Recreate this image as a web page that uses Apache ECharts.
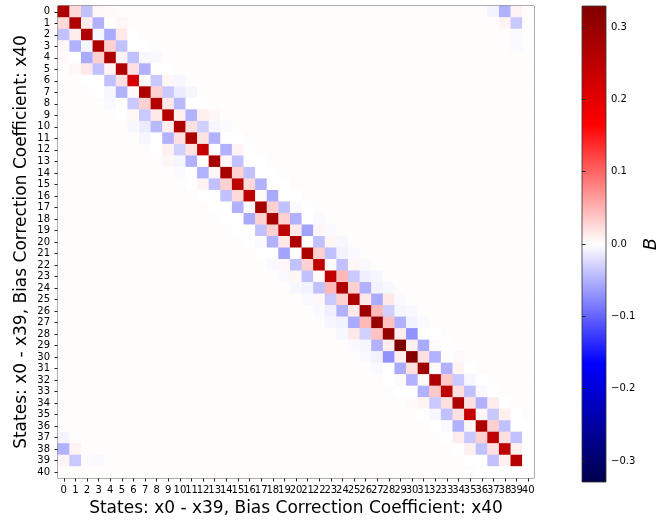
<!DOCTYPE html>
<html>
<head>
<meta charset="utf-8">
<script src="https://cdn.jsdelivr.net/npm/echarts@6/dist/echarts.min.js"></script>
<style>
  html, body { margin: 0; padding: 0; background: #fff; }
  #chart { width: 667px; height: 522px; }
</style>
</head>
<body>
<div id="chart"></div>
<script>
// tick labels (states x0..x39 + bias coefficient x40)
const stateLabels = ['0','1','2','3','4','5','6','7','8','9','10','11','12','13','14','15','16','17','18','19',
  '20','21','22','23','24','25','26','27','28','29','30','31','32','33','34','35','36','37','38','39','40']

// main diagonal
const diag = [0.27, 0.27, 0.27, 0.27, 0.27, 0.27, 0.22, 0.27, 0.26, 0.26,
  0.27, 0.27, 0.24, 0.28, 0.28, 0.25, 0.25, 0.28, 0.28, 0.25,
  0.27, 0.27, 0.25, 0.25, 0.27, 0.27, 0.29, 0.30, 0.30, 0.329,
  0.32, 0.29, 0.27, 0.25, 0.27, 0.24, 0.27, 0.25, 0.25, 0.26, 0.0]
// entry (i, i+1)
const off1 = [0.025, 0.012, -0.006, 0.03, 0.008, 0.02, 0.004, 0.03, 0.015, 0.01,
  0.02, 0.018, 0.002, 0.006, 0.03, 0.025, 0.003, 0.03, 0.03, 0.015,
  0.0, 0.03, 0.003, 0.045, 0.03, 0.015, 0.045, 0.04, 0.012, 0.01,
  0.02, 0.004, 0.035, 0.02, 0.02, 0.005, 0.03, 0.02, 0.01, 0.0]
// entry (i, i+2)
const off2 = [-0.04, -0.05, -0.055, -0.04, -0.04, -0.05, -0.035, -0.035, -0.045, -0.05,
  -0.03, -0.05, -0.05, -0.04, -0.04, -0.05, -0.055, -0.04, -0.05, -0.06,
  -0.04, -0.04, -0.04, -0.035, -0.05, -0.055, -0.03, -0.05, -0.07, -0.055,
  -0.05, -0.05, -0.035, -0.04, -0.05, -0.035, -0.04, -0.04, 0.0]
// entry (i, i+3)
const off3 = [0.005, 0.0, 0.015, 0.0, -0.005, 0.0, 0.006, -0.012, 0.0, 0.01,
  -0.006, 0.0, 0.008, 0.0, 0.0, 0.0, 0.0, -0.003, 0.0, 0.005,
  0.006, -0.008, 0.006, -0.01, -0.008, 0.015, -0.006, -0.008, 0.0, 0.003,
  0.0, 0.008, -0.005, -0.004, 0.012, 0.01, 0.0, 0.0]
// entry (i, i+4)
const off4 = [0.004, 0.006, 0.0, 0.0, -0.004, 0.0, -0.005, -0.006, 0.0, 0.006,
  -0.003, 0.0, 0.0, 0.0, 0.0, 0.0, 0.0, 0.0, -0.004, -0.004,
  -0.005, -0.004, -0.004, -0.006, -0.005, -0.004, -0.004, -0.004, 0.0, 0.0,
  0.004, 0.0, 0.0, 0.0, 0.0, 0.0, 0.0]
// wrap-around corner entries [row, col, value]
const cornerCells = [[0, 37, -0.007], [0, 38, -0.05], [0, 39, 0.008],
  [1, 38, 0.008], [1, 39, -0.035], [2, 39, -0.003], [3, 39, -0.004]]
// everything else is faintly positive
const restValue = 0.002

const colorRange = ['#00004c', '#0000ff', '#ffffff', '#ff0000', '#800000']
const vMin = -0.329
const vMax = 0.329

function cellValue(r, c) {
  let a = Math.min(r, c), b = Math.max(r, c), d = b - a
  for (let k = 0; k < cornerCells.length; k++) {
    if (cornerCells[k][0] === a && cornerCells[k][1] === b) return cornerCells[k][2]
  }
  if (d === 0) return diag[a]
  if (d === 1) return off1[a]
  if (d === 2) return off2[a]
  if (d === 3) return off3[a]
  if (d === 4) return off4[a]
  return restValue
}

let heatData = []
for (let r = 0; r < stateLabels.length; r++) {
  for (let c = 0; c < stateLabels.length; c++) {
    heatData.push([c, r, cellValue(r, c)])
  }
}

const titleText = 'States: x0 - x39, Bias Correction Coefficient: x40'
const font = 'DejaVu Sans'

const mychart = echarts.init(document.getElementById('chart'))
mychart.setOption({
  animation: false,
  grid: [
    { left: 58, top: 6, width: 476, height: 476, show: true, borderColor: '#222', borderWidth: 1, backgroundColor: 'transparent' },
    {
      left: 582, top: 6, width: 24, height: 476, show: true, borderColor: '#333', borderWidth: 0.8,
      backgroundColor: new echarts.graphic.LinearGradient(0, 0, 0, 1,
        colorRange.slice().reverse().map((c, i) => ({ offset: i / (colorRange.length - 1), color: c })))
    }
  ],
  xAxis: [
    {
      type: 'category', gridIndex: 0, data: stateLabels, position: 'bottom',
      axisLine: { show: false },
      axisTick: { show: true, alignWithLabel: true, length: 3.5, lineStyle: { color: '#222' } },
      axisLabel: { interval: 0, fontSize: 10, color: '#000', fontFamily: font, margin: 7 },
      splitLine: { show: false },
      name: titleText, nameLocation: 'middle', nameGap: 22, nameMoveOverlap: false,
      nameTextStyle: { fontSize: 17, color: '#000', fontFamily: font }
    },
    { type: 'value', gridIndex: 1, show: false, min: 0, max: 1 }
  ],
  yAxis: [
    {
      type: 'category', gridIndex: 0, data: stateLabels, inverse: true,
      axisLine: { show: false },
      axisTick: { show: true, alignWithLabel: true, length: 3.5, lineStyle: { color: '#222' } },
      axisLabel: { interval: 0, fontSize: 10, color: '#000', fontFamily: font, margin: 8 },
      splitLine: { show: false },
      name: titleText, nameLocation: 'middle', nameGap: 28, nameRotate: 90, nameMoveOverlap: false,
      nameTextStyle: { fontSize: 17, color: '#000', fontFamily: font }
    },
    {
      type: 'value', gridIndex: 1, position: 'right', min: vMin, max: vMax,
      axisLine: { show: false },
      splitLine: { show: false },
      axisTick: { show: true, length: 3.5, lineStyle: { color: '#222' }, customValues: [-0.3, -0.2, -0.1, 0, 0.1, 0.2, 0.3] },
      axisLabel: {
        fontSize: 10, color: '#000', fontFamily: font, margin: 5,
        customValues: [-0.3, -0.2, -0.1, 0, 0.1, 0.2, 0.3],
        formatter: v => (v < 0 ? '\u2212' : '') + Math.abs(v).toFixed(1)
      },
      name: 'B', nameLocation: 'middle', nameGap: 36, nameRotate: 90, nameMoveOverlap: false,
      nameTextStyle: { fontSize: 18, fontStyle: 'italic', color: '#000', fontFamily: font }
    }
  ],
  visualMap: {
    show: false, type: 'continuous', min: vMin, max: vMax, seriesIndex: 0,
    inRange: { color: colorRange }
  },
  series: [
    {
      type: 'heatmap', xAxisIndex: 0, yAxisIndex: 0, data: heatData,
      label: { show: false },
      emphasis: { disabled: true }
    }
  ]
})
</script>
</body>
</html>
